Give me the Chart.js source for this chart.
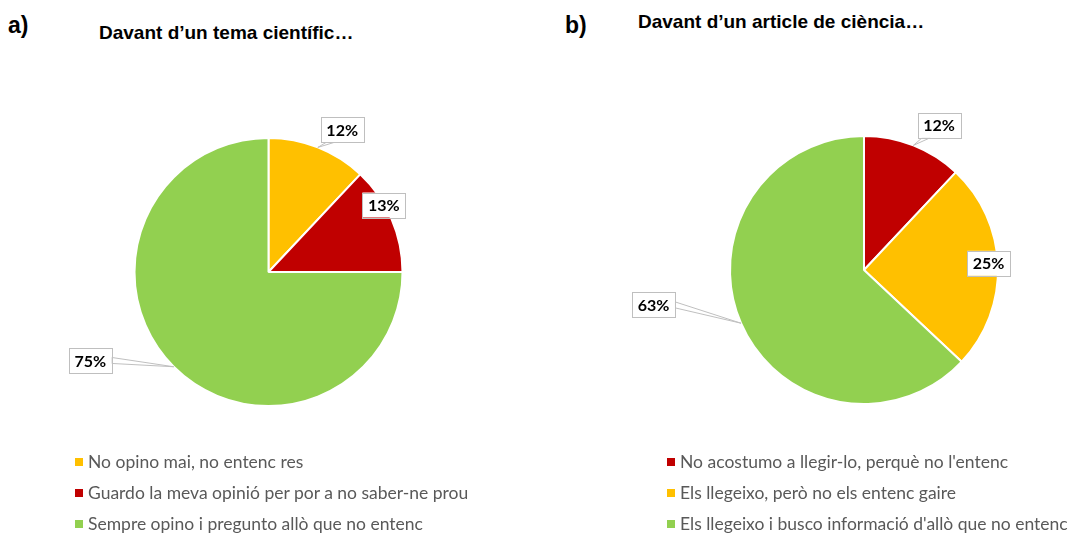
<!DOCTYPE html>
<html>
<head>
<meta charset="utf-8">
<script src="https://cdn.jsdelivr.net/npm/chart.js@4/dist/chart.umd.min.js"></script>
<style>
  body { margin: 0; width: 1074px; height: 535px; position: relative; background: #fff; overflow: hidden; font-family: "Liberation Sans", Arial, sans-serif; }
  canvas { position: absolute; top: 0; }
  .tag { position: absolute; font-weight: bold; font-size: 23px; color: #000; line-height: 1; }
  .title { position: absolute; font-weight: bold; font-size: 19px; color: #000; line-height: 1; }
  .legend { position: absolute; font-family: Lato, "Open Sans", sans-serif; font-size: 17.5px; color: #595959; }
  .legend div { height: 31px; line-height: 31px; white-space: nowrap; }
  .legend span { display: inline-block; width: 8px; height: 8px; margin-right: 5px; vertical-align: 2px; }
</style>
</head>
<body>
<div class="tag" style="left:8px;top:14px">a)</div>
<div class="title" style="left:99px;top:23px">Davant d’un tema científic…</div>
<div class="tag" style="left:565px;top:14px">b)</div>
<div class="title" style="left:638px;top:12px">Davant d’un article de ciència…</div>

<canvas id="pieA" width="537" height="535" style="left:0;width:537px;height:535px"></canvas>
<canvas id="pieB" width="537" height="535" style="left:537px;width:537px;height:535px"></canvas>

<div class="legend" id="legendA" style="left:75px;top:446px"></div>
<div class="legend" id="legendB" style="left:667px;top:446px"></div>

<script>
// chart a) - davant d'un tema científic
const labelsA = ['No opino mai, no entenc res', 'Guardo la meva opinió per por a no saber-ne prou', 'Sempre opino i pregunto allò que no entenc'];
const valuesA = [12, 13, 75];
const colorsA = ['#FFC000', '#C00000', '#92D050'];

// chart b) - davant d'un article de ciència
const labelsB = ["No acostumo a llegir-lo, perquè no l'entenc", 'Els llegeixo, però no els entenc gaire', "Els llegeixo i busco informació d'allò que no entenc"];
const valuesB = [12, 25, 63];
const colorsB = ['#C00000', '#FFC000', '#92D050'];

// where the callout boxes sit, relative to the pie centre in radius units
const calloutPosA = [[0.55, -1.06], [0.86, -0.50], [-1.33, 0.66]];
const calloutPosB = [[0.56, -1.08], [0.93, -0.05], [-1.57, 0.26]];

const callouts = {
    id: 'callouts',
    afterDatasetsDraw(chart, args, opts) {
        const ctx = chart.ctx;
        const meta = chart.getDatasetMeta(0);
        const values = chart.data.datasets[0].data;
        ctx.save();
        ctx.font = 'bold 16px Lato, "Open Sans", sans-serif';
        meta.data.forEach(function(arc, i) {
            const p = arc.getProps(['x', 'y', 'startAngle', 'endAngle', 'outerRadius'], true);
            const mid = (p.startAngle + p.endAngle) / 2;
            const tx = p.x + Math.cos(mid) * p.outerRadius;
            const ty = p.y + Math.sin(mid) * p.outerRadius;
            const bx = p.x + opts.pos[i][0] * p.outerRadius;
            const by = p.y + opts.pos[i][1] * p.outerRadius;
            const text = values[i] + '%';
            const w = ctx.measureText(text).width + 11;
            const h = 25;
            const left = bx - w / 2, top = by - h / 2;

            // tail pointing to the slice
            const dx = tx - bx, dy = ty - by;
            const inside = Math.abs(dx) < w / 2 + 4 && Math.abs(dy) < h / 2 + 4;
            if (!inside) {
                let b1, b2;
                if (Math.abs(dx) / (w / 2) > Math.abs(dy) / (h / 2)) {
                    const sx = bx + Math.sign(dx) * w / 2;
                    b1 = [sx, by - 3]; b2 = [sx, by + 3];
                } else {
                    const sy = by + Math.sign(dy) * h / 2;
                    const cx = bx + Math.max(-w / 2 + 6, Math.min(w / 2 - 6, dx * 0.5));
                    b1 = [cx - 4, sy]; b2 = [cx + 4, sy];
                }
                ctx.beginPath();
                ctx.moveTo(b1[0], b1[1]);
                ctx.lineTo(tx, ty);
                ctx.lineTo(b2[0], b2[1]);
                ctx.closePath();
                ctx.fillStyle = '#fff';
                ctx.fill();
                ctx.strokeStyle = '#BFBFBF';
                ctx.lineWidth = 1;
                ctx.stroke();
            }

            ctx.fillStyle = '#fff';
            ctx.fillRect(left, top, w, h);
            ctx.strokeStyle = '#BFBFBF';
            ctx.lineWidth = 1;
            ctx.strokeRect(Math.round(left) + 0.5, Math.round(top) + 0.5, Math.round(w), h);
            ctx.fillStyle = '#000';
            ctx.textAlign = 'center';
            ctx.textBaseline = 'middle';
            ctx.fillText(text, bx, by + 1);
        });
        ctx.restore();
    }
};

function makePie(id, labels, values, colors, padding, pos) {
    new Chart(document.getElementById(id).getContext('2d'), {
        type: 'pie',
        data: {
            labels: labels,
            datasets: [{
                data: values,
                backgroundColor: colors,
                borderColor: '#fff',
                borderWidth: 2
            }]
        },
        options: {
            responsive: false,
            animation: false,
            radius: 134,
            layout: { padding: padding },
            plugins: {
                legend: { display: false },
                tooltip: { enabled: false },
                callouts: { pos: pos }
            }
        },
        plugins: [callouts]
    });
}

function makeLegend(id, labels, colors) {
    const box = document.getElementById(id);
    labels.forEach(function(label, i) {
        const row = document.createElement('div');
        const sw = document.createElement('span');
        sw.style.background = colors[i];
        row.appendChild(sw);
        row.appendChild(document.createTextNode(label));
        box.appendChild(row);
    });
}

makePie('pieA', labelsA, valuesA, colorsA, { left: 0, right: 0, top: 138, bottom: 129 }, calloutPosA);
makePie('pieB', labelsB, valuesB, colorsB, { left: 190, right: 73, top: 135, bottom: 130 }, calloutPosB);
makeLegend('legendA', labelsA, colorsA);
makeLegend('legendB', labelsB, colorsB);
</script>
</body>
</html>
